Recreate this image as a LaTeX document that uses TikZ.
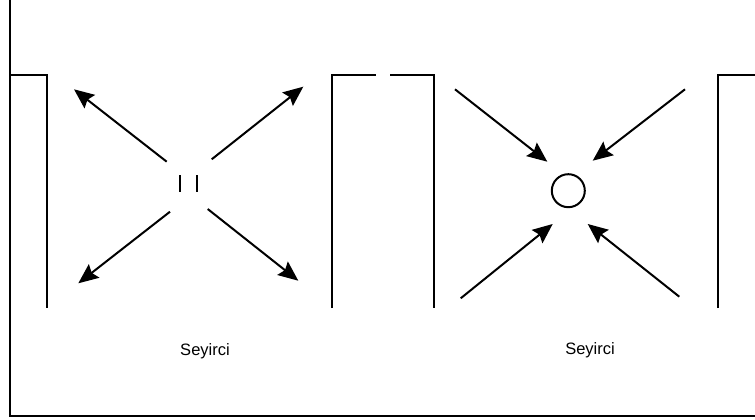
\documentclass[tikz,border=0pt]{standalone}
\usepackage{fontspec}
\setmainfont{Liberation Sans}
\usepackage{tikz}
\usetikzlibrary{arrows.meta,positioning}

\tikzset{
  wall/.style={line width=2pt, line join=miter},
  flow/.style={line width=2pt, -{Stealth[length=20pt,width=17pt,inset=3pt]}},
  seat/.style={font=\fontsize{16.5}{20}\selectfont, inner sep=0pt}
}

\begin{document}
\begin{tikzpicture}[x=1pt,y=-1pt]
\useasboundingbox (0,0) rectangle (755,420);
% frame
\draw[line width=2.2pt] (10,0) -- (10,416) -- (755,416);
% walls
\draw[wall] (10,75.5) -- (47,75.5) -- (47,308);
\draw[wall] (332,308) -- (332,75.5) -- (376,75.5);
\draw[wall] (390,75.5) -- (434,75.5) -- (434,308);
\draw[wall] (718,308) -- (718,75.5) -- (755,75.5);

% left: outwards
\coordinate (A1) at (166.7,161.7);
\coordinate (A2) at (211.7,159.3);
\coordinate (A3) at (170,211.7);
\coordinate (A4) at (207.7,209);
\coordinate (P1) at (74,89.3);
\coordinate (P2) at (303.3,86.7);
\coordinate (P3) at (78.3,283.3);
\coordinate (P4) at (298.3,280.7);
\draw[flow] (A1) -- (P1);
\draw[flow] (A2) -- (P2);
\draw[flow] (A3) -- (P3);
\draw[flow] (A4) -- (P4);
\coordinate (S1) at (180,175);
\coordinate (S2) at (196.7,175);
\draw[line width=2pt] (S1) -- ++(0,16.7);
\draw[line width=2pt] (S2) -- ++(0,16.7);

% right: inwards
\node[draw, circle, line width=2pt, minimum size=33pt, inner sep=0pt] (ball) at (568.3,190.7) {};
\coordinate (B1) at (455,89.3);
\coordinate (B2) at (685,89.3);
\coordinate (B3) at (460.7,298.3);
\coordinate (B4) at (679.3,296.7);
\coordinate (Q1) at (547.3,161.7);
\coordinate (Q2) at (592.7,160.7);
\coordinate (Q3) at (552.7,224);
\coordinate (Q4) at (587.7,224);
\draw[flow] (B1) -- (Q1);
\draw[flow] (B2) -- (Q2);
\draw[flow] (B3) -- (Q3);
\draw[flow] (B4) -- (Q4);

% audience
\node[seat] (aud1) at (205,351.5) {Seyirci};
\node[seat] (aud2) at (590,350.5) {Seyirci};
\end{tikzpicture}
\end{document}
